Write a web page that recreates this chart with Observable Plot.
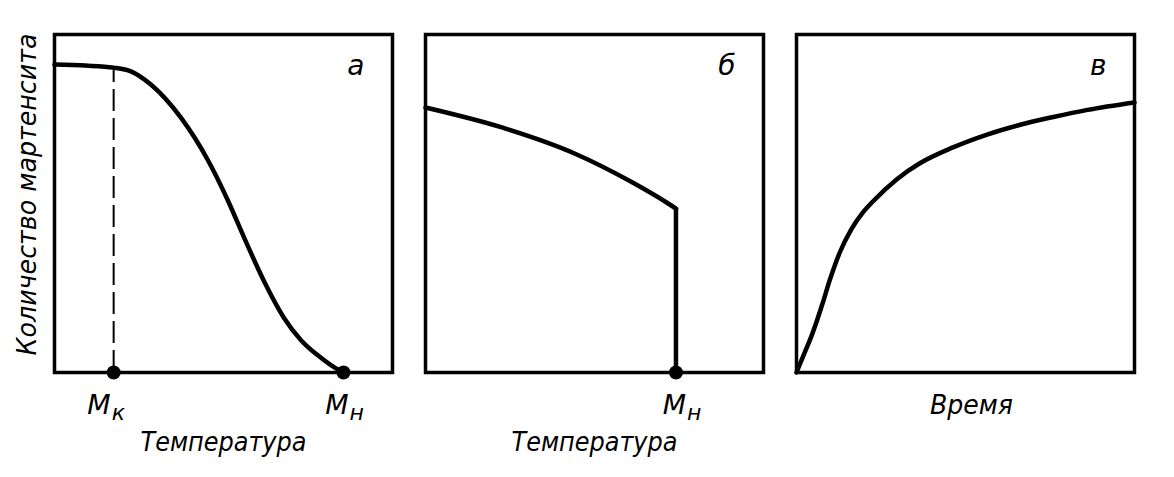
<!DOCTYPE html>
<html>
<head>
<meta charset="utf-8">
<script src="https://cdn.jsdelivr.net/npm/d3@7"></script>
<script src="https://cdn.jsdelivr.net/npm/@observablehq/plot@0.6"></script>
<style>
  html, body { margin: 0; padding: 0; background: #fff; }
  #chart svg { display: block; }
</style>
</head>
<body>
<div id="chart"></div>
<script>
// ---- data (x and y in percent of each panel's range) ----
const panels = ["а", "б", "в"];
const yTitle = "Количество мартенсита";
const xTitles = ["Температура", "Температура", "Время"];

// panel а: continuous cooling
const aTemperature = [0, 9.2, 17.5, 22.6, 28.5, 37.4, 45.4, 51.3, 56.1, 62.0, 68.0, 73.0, 78.0, 82.8, 85.5];
const aMartensite  = [91.1, 90.8, 90.2, 89.1, 85.2, 75.4, 62.8, 50.9, 39.9, 27.0, 16.0, 9.5, 5.0, 1.5, 0];

// panel б: burst formation
const bTemperature = [0, 22.6, 44.1, 61.8, 71.8, 74.1];
const bMartensite  = [78.4, 72.5, 64.8, 55.9, 50.0, 48.5];

// panel в: isothermal
const cTime       = [0, 1.8, 4.7, 7.7, 9.8, 12.8, 16.3, 19.6, 22.6, 29.7, 36.5, 46.3, 56.4, 66.2, 76.0, 86.1, 100];
const cMartensite = [0, 4.4, 11.5, 20.4, 27.2, 35.5, 42.5, 47.3, 50.6, 57.2, 61.9, 66.6, 70.4, 73.3, 75.6, 77.7, 79.9];

// characteristic points Мк / Мн
const pointPanels = ["а", "а", "б"];
const pointX      = [17.5, 85.5, 74.1];
const pointSub    = ["к", "н", "н"];
const mkLevel     = 90.2;            // top of the dash line at Мк

// ---- tables built from the arrays ----
const curves = [
  ...aTemperature.map((x, i) => ({panel: "а", x, y: aMartensite[i]})),
  ...bTemperature.map((x, i) => ({panel: "б", x, y: bMartensite[i]})),
  ...cTime.map((x, i) => ({panel: "в", x, y: cMartensite[i]}))
];
const points = pointX.map((x, i) => ({panel: pointPanels[i], x, sub: pointSub[i]}));
const panelRows = panels.map((p, i) => ({panel: p, title: xTitles[i]}));
const drop = [{panel: "б", x: bTemperature[bTemperature.length - 1], y1: 0, y2: bMartensite[bMartensite.length - 1]}];
const mkRule = [{panel: "а", x: pointX[0], y1: 0, y2: mkLevel}];

// ---- layout ----
const font = "'DejaVu Sans', sans-serif";
const labelDx = [-3, 5, 10];     // per-point offset of the "М" label
const markMarks = points.flatMap((p, i) => [
  Plot.text([p], {fx: "panel", x: "x", frameAnchor: "bottom", text: () => "М",
    textAnchor: "end", lineAnchor: "bottom", dx: labelDx[i], dy: 41, fontSize: 27, fontStyle: "italic", fill: "black"}),
  Plot.text([p], {fx: "panel", x: "x", frameAnchor: "bottom", text: "sub",
    textAnchor: "start", lineAnchor: "bottom", dx: labelDx[i] + 1, dy: 47, fontSize: 22, fontStyle: "italic", fill: "black"})
]);

const chart = Plot.plot({
  width: 1174,
  height: 477,
  marginTop: 34,
  marginBottom: 105,
  marginLeft: 54,
  marginRight: 40,
  style: {background: "#fff", fontFamily: font, color: "black", overflow: "visible"},
  fx: {domain: panels, axis: null, paddingInner: 0.089, paddingOuter: 0},
  x: {domain: [0, 100], axis: null},
  y: {domain: [0, 100], axis: null},
  marks: [
    Plot.frame({stroke: "black", strokeWidth: 3.5}),
    Plot.ruleX(mkRule, {fx: "panel", x: "x", y1: "y1", y2: "y2", stroke: "black", strokeWidth: 2, strokeDasharray: "22,7"}),
    Plot.line(curves, {fx: "panel", x: "x", y: "y", z: "panel", curve: "monotone-x", stroke: "black", strokeWidth: 4.5, strokeLinejoin: "round"}),
    Plot.ruleX(drop, {fx: "panel", x: "x", y1: "y1", y2: "y2", stroke: "black", strokeWidth: 4.5}),
    Plot.dot(points, {fx: "panel", x: "x", y: () => 0, r: 7, fill: "black", stroke: "none"}),
    // panel letters
    Plot.text(panelRows, {fx: "panel", frameAnchor: "top-right", text: "panel", textAnchor: "end",
      lineAnchor: "bottom", dx: -28, dy: 40, fontSize: 28, fontStyle: "italic", fill: "black"}),
    // x titles
    Plot.text(panelRows.filter(d => d.panel !== "в"), {fx: "panel", frameAnchor: "bottom", text: "title",
      lineAnchor: "bottom", dy: 78, fontSize: 26, fontStyle: "italic", fill: "black"}),
    Plot.text(panelRows.filter(d => d.panel === "в"), {fx: "panel", frameAnchor: "bottom", text: "title",
      lineAnchor: "bottom", dx: 6, dy: 41, fontSize: 26, fontStyle: "italic", fill: "black"}),
    // y title
    Plot.text([{panel: "а"}], {fx: "panel", frameAnchor: "left", text: () => yTitle, rotate: -90,
      textAnchor: "middle", lineAnchor: "middle", dx: -27, dy: -9, fontSize: 27, fontStyle: "italic", fill: "black"}),
    ...markMarks
  ]
});

document.getElementById("chart").append(chart);

// condense the lettering like the drafting font of the original
const lengths = {"Количество мартенсита": 322, "Температура": 166, "Время": 83};
d3.select(chart).selectAll("text").each(function () {
  const t = this.textContent;
  if (lengths[t]) {
    d3.select(this).attr("textLength", lengths[t]).attr("lengthAdjust", "spacingAndGlyphs");
  }
});
</script>
</body>
</html>
